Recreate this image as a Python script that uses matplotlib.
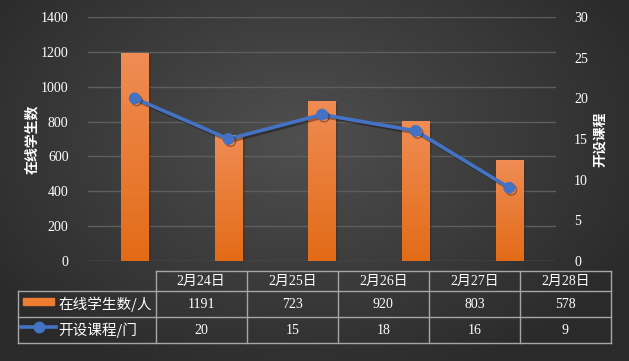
import numpy as np
import matplotlib
matplotlib.use("Agg")
import matplotlib.pyplot as plt
import matplotlib.patheffects as pe

plt.rcParams['font.family'] = ['Liberation Serif', 'Noto Sans CJK SC']

# ---------------- DATA ---------------- #
dates = ["2月24日", "2月25日", "2月26日", "2月27日", "2月28日"]
students = [1191, 723, 920, 803, 578]
courses = [20, 15, 18, 16, 9]
series_names = ["在线学生数/人", "开设课程/门"]
left_ticks = [0, 200, 400, 600, 800, 1000, 1200, 1400]
right_ticks = [0, 5, 10, 15, 20, 25, 30]

W, H = 629, 361
fig = plt.figure(figsize=(W / 100, H / 100), dpi=100)

# ---------------- BACKGROUND ---------------- #
bg = fig.add_axes([0, 0, 1, 1])
yy, xx = np.mgrid[0:H, 0:W]
r = np.sqrt(((xx - 300) / 380.0) ** 2 + ((yy - 140) / 260.0) ** 2)
r = np.clip(r, 0, 1)
c = 0.31 - 0.145 * r
img = np.dstack([c, c, c])
bg.imshow(img, extent=[0, W, H, 0], aspect='auto')
bg.set_xlim(0, W)
bg.set_ylim(H, 0)
bg.axis('off')

# ---------------- CHART ---------------- #
ax = fig.add_axes([88 / W, 1 - 261 / H, (556 - 88) / W, (261 - 17) / H])
ax.patch.set_alpha(0)
x = np.arange(len(dates))
ax.set_xlim(-0.5, len(dates) - 0.5)
ax.set_ylim(0, 1400)
ax.set_yticks(left_ticks)
ax.set_xticks([])
for s in ax.spines.values():
    s.set_visible(False)
ax.grid(axis='y', color='#5e5e5e', linewidth=1)
ax.set_axisbelow(True)
ax.tick_params(axis='y', length=0, colors='white', labelsize=10, pad=14)

bars = ax.bar(x, students, width=0.29, color='#ee7d31', zorder=2,
              path_effects=[pe.SimplePatchShadow(offset=(2, -2), alpha=0.35), pe.Normal()])
grad = np.linspace(0, 1, 256).reshape(-1, 1)
top_col = np.array([0.94, 0.55, 0.33])
bot_col = np.array([0.89, 0.42, 0.09])
grad_img = top_col * (1 - grad[..., None]) + bot_col * grad[..., None]
for b in bars:
    im = ax.imshow(grad_img, extent=[b.get_x(), b.get_x() + b.get_width(), 0, b.get_height()],
                   aspect='auto', zorder=3, origin='upper')
    im.set_clip_path(b)
ax.set_xlim(-0.5, len(dates) - 0.5)
ax.set_ylim(0, 1400)
ax.set_ylabel("在线学生数", family=['Noto Sans CJK SC'], color='white',
              fontsize=10, fontweight='bold', labelpad=1)

ax2 = ax.twinx()
ax2.set_ylim(0, 30)
ax2.set_yticks(right_ticks)
for s in ax2.spines.values():
    s.set_visible(False)
ax2.tick_params(axis='y', length=0, colors='white', labelsize=10, pad=13)
ax2.plot(x, courses, color='#4472c4', linewidth=2.6, marker='o', markersize=7.5, zorder=4,
         path_effects=[pe.SimpleLineShadow(offset=(1.5, -1.5), alpha=0.35), pe.Normal()])
ax2.set_ylabel("开设课程", family=['Noto Sans CJK SC'], color='white',
               fontsize=10, fontweight='bold', labelpad=3.5)

# ---------------- DATA TABLE ---------------- #
tb = fig.add_axes([0, 0, 1, 1])
tb.set_xlim(0, W)
tb.set_ylim(H, 0)
tb.axis('off')
tb.patch.set_alpha(0)

gc = '#a6a6a6'
x0, x1 = 155.7, 611.0
cw = (x1 - x0) / len(dates)
lx = 17.5
y_rows = [271, 291, 317, 343]

tb.plot([x0, x1], [y_rows[0]] * 2, color=gc, lw=1)
for yv in y_rows[1:]:
    tb.plot([lx, x1], [yv] * 2, color=gc, lw=1)
tb.plot([lx, lx], [y_rows[1], y_rows[3]], color=gc, lw=1)
for i in range(len(dates) + 1):
    tb.plot([x0 + i * cw] * 2, [y_rows[0], y_rows[3]], color=gc, lw=1)

for i, d in enumerate(dates):
    cx = x0 + (i + 0.5) * cw
    tb.text(cx, (y_rows[0] + y_rows[1]) / 2, d, color='white', fontsize=10,
            ha='center', va='center')
    tb.text(cx, (y_rows[1] + y_rows[2]) / 2, str(students[i]), color='white',
            fontsize=10, ha='center', va='center')
    tb.text(cx, (y_rows[2] + y_rows[3]) / 2, str(courses[i]), color='white',
            fontsize=10, ha='center', va='center')

# legend keys
tb.add_patch(plt.Rectangle((22.7, 298), 31.6, 7, color='#ee7d31'))
tb.plot([20.7, 56], [327, 327], color='#4472c4', lw=2.6)
tb.plot([39], [327], marker='o', color='#4472c4', markersize=7.5)
tb.text(58, (y_rows[1] + y_rows[2]) / 2, series_names[0], color='white', fontsize=10.5,
        family=['Noto Sans CJK SC'], ha='left', va='center')
tb.text(58, (y_rows[2] + y_rows[3]) / 2, series_names[1], color='white', fontsize=10.5,
        family=['Noto Sans CJK SC'], ha='left', va='center')

fig.savefig("out.png", dpi=100)
